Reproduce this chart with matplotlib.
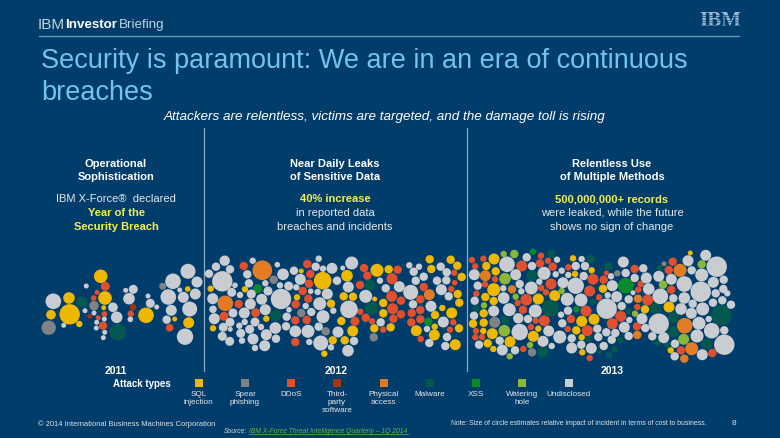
import matplotlib
matplotlib.use("Agg")
import matplotlib.pyplot as plt

plt.rcParams['font.family'] = ['Liberation Sans', 'DejaVu Sans']

# Incident bubbles: (timeline position, vertical lane, radius = impact)
sql_injection = [(69,299,5.3),(51,315.7,4.3),(69.7,315.3,9.7),(79.3,325,2.7),(100.7,277.3,6.3),(105,299,6.3),(103.7,308.7,2),
 (146,316.3,7.3),(187.7,290,2.3),(174.7,320,2),(188.7,323.7,5),(210.7,289.7,2.7),(245,290.3,2.7),(266.3,319.7,2.7),(213,329.3,2.7),
 (301.3,272,2),(322.7,281.7,8.3),(347,276.7,5.3),(297,298.3,2.7),(343.7,297.3,3.7),(353,297.7,3.7),(331,304.7,3.7),(341.3,322,3.7),
 (352.7,332,5),(332.7,341.3,3.7),(344.7,341.3,3.7),(324.3,354.7,2.7),(377,271.3,6),(388.7,270.3,3.7),(374.7,300,2),(383.3,304,3.7),
 (383.3,314.3,3.7),(390.7,328.3,3.7),(374.3,329.3,3.7),(429.7,260.3,3.7),(431.3,270,3.7),(450.7,260.7,3.7),(457.3,266.7,3.7),
 (461.7,278,3.7),(457.7,295,3.7),(459.3,303.7,3.7),(442.3,309,2.7),(451.7,314,5),(435,316,3.7),(434.7,327.7,2.7),(416.3,331.7,5),
 (459,329.3,3.7),(434.3,336,5),(455.3,345.7,5),(494,260,5),(486.3,267,3.7),(495.7,272.3,3.7),(493.7,290.7,6),(485.3,298,3.7),
 (493.7,302,3.7),(483.7,314.3,3.7),(473,324.7,3.7),(483.7,323.7,3.7),(483.3,332,2.7),(492.3,334.7,5),(510,342.7,5),(487.7,344.3,3.7),
 (493.3,350,2.7),(554.7,296.7,5),(538.3,300,5),(538.3,329.7,2.7),(533.3,337.3,5),(573,259.3,2.7),(591.7,271.3,2.7),(575,275,2.7),
 (603,289.7,3.7),(645,310.3,3.7),(581.7,322.3,5),(594,320.3,5),(576.3,331.3,3.7),(581.7,338.3,2.7),(582.3,353.3,2.7),(690.3,254,2),
 (669,308,5),(670.7,351.3,2.7)]
spear_phishing = [(48.7,328.7,6.7),(94,306.7,4.3),(162.7,287.3,3),(273.7,280.7,3.7),(301.3,314,3.7),(325.7,332.3,3.7),(373.7,338.3,3.7),
 (494.7,323.3,5),(532,353.3,3.7),(617.3,274.3,2.7),(664,264.7,2)]
ddos = [(105.3,287.3,4),(97,293.3,2),(93.7,299,2.3),(104.3,315,2.3),(98.3,318.7,2),(103,326.7,3.7),(130.7,314.7,2.7),(169.7,328.7,3.3),
 (243.7,267,3.7),(238.7,305,3.7),(255.7,313.7,4),(224,317.3,4),(307.3,265,3.7),(310.3,275,3.7),(309,284.7,3.7),(302.7,292,3.7),
 (308.3,299.7,3.7),(295.7,305.3,3.7),(295.3,321.3,3.7),(306.7,321,3.7),(355,322.3,4),(295.3,343,3.7),(364,269,3.7),(367.3,276.7,3.7),
 (397.7,270.7,3.7),(392,279.7,5),(360,286,3.7),(391.7,297.3,5),(401,301.7,3.7),(392.7,309.7,5),(360.3,312.7,2.7),(401,315.3,3.7),
 (365.7,318.7,3.7),(393.3,319.7,3.7),(372,322.3,2.7),(383.3,330.7,2.7),(454.3,273.7,2.7),(454.7,283.7,2.3),(423.7,288,3.7),
 (451.3,290,2.7),(420.3,300.3,3.7),(420.3,311,3.7),(411.7,314,3.7),(411.3,323.3,3.7),(420.3,320.3,3.7),(453.3,323.3,2.7),
 (450,330.7,2.7),(420.7,340,2.7),(472,261,2.7),(483.3,259.7,2.7),(475.3,267.3,2.7),(495,280.3,2.7),(485,285.3,2.7),(476.3,294.7,2.7),
 (476,332,2.7),(475.3,338.3,2.7),(482,338,2.7),(541,256.7,2.7),(521.7,267,5),(540,264.3,3.7),(548,261.7,2.7),(552.7,267.7,3.7),
 (551,285,5),(541.3,289,2.7),(546,293.3,2.7),(517.7,304,2.7),(526.3,300.7,5.3),(523,310.7,3.7),(535.7,321.7,2.7),(544.3,321.7,5),
 (531,328,2.7),(523.3,350,2.7),(568.3,268.3,2.7),(593,280.3,5),(606.3,274,2),(603.7,280.7,3.7),(634.7,270,3.7),(640.7,285,2.7),
 (638.3,290.7,2.7),(589.7,292,5),(599,298.3,2.7),(647.7,301,5),(637.3,308,2.7),(586,312,5),(620.7,317.3,5),(571,320,3.7),
 (612.3,324.7,5),(637,327.3,3.7),(567.7,330,2.7),(587.3,331.7,5),(589.7,359,2.7),(672.7,262.7,3.7),(668.7,271,3.7),(671.3,290.7,3.7),
 (681,351.3,3.7),(712.3,354,3.7)]
third_party = [(89.7,317.3,2),(133,308.3,2.7)]
physical_access = [(262.3,271.3,9.3),(225.3,304.3,7.3),(429.3,295.7,5),(485.3,276.7,5),(512,290.3,3.7),(638,299.7,3.7),(637.3,336,3.7),
 (680,271.3,6),(684.7,326.7,7.3),(691.7,349.7,6),(684.3,359.7,3.7)]
malware = [(81.7,303.3,5),(117.7,333,7.7),(275.7,316.7,5),(370,286,5),(371.3,309.3,6),(476,309.3,2.7),(505,321.3,3.7),(551.7,254.7,3.7),
 (531.7,276.7,5),(550.3,309.3,8),(542.7,353,5),(590.7,260,3.7),(608.3,267.3,3.7),(592.7,302.7,2.7),(628.3,312,2.7),(588,340.3,2.7),
 (620,341,2.7),(614.7,350.3,2.7),(599.7,353,2),(609.3,356.3,2.7),(659.7,269,2.7),(655.3,309.3,5),(721.3,316.3,9.7),(673.7,318.7,5),
 (673.3,332.7,5),(657.3,344,2.7),(667.3,346,2.7),(706.7,344.7,5)]
xss = [(257.7,289.7,4),(428.3,322.7,3.7),(533,252.7,2.7),(625.7,286.7,7.3),(576.3,310.3,2.7)]
watering_hole = [(503.7,255,2.7),(514.3,255,3.7),(505,279.7,5.3),(515.7,297.7,2.7),(484,306.3,2.7),(504.3,331.7,5.3),(509.7,357.3,2.7),
 (561.7,292,2.7),(530,346,2.7),(635,314.7,2.7),(701.7,265.3,3.7),(663,285.7,3.7),(683.7,340.3,5)]
undisclosed = [(53.3,302.3,7.3),(63.7,326.3,2),(86.3,287,2),(85,311.7,2),(94,314,2),(104.3,320,2),(96.7,323.3,2),(96.3,329,2),(104.7,333.3,2),
 (103.3,338.7,2),(113,308.3,4.3),(116.7,318.3,5.3),(125.7,291.3,2),(133.3,290.3,4),(129,299.7,5.3),(130.3,320.3,2.3),(148,297,2),
 (150.3,304.3,4),(156.7,308,2),(173,282.3,7.3),(188,272.3,7),(197,283,5),(179.7,291,2),(195.3,295,5),(183.3,298.3,5),(168.3,298,7.3),
 (171.3,311.3,5),(189.7,310,7),(166.7,320.7,3.7),(185,337.7,7.7),(224.7,261.7,4.7),(216,267.7,3.7),(209,274.7,3.7),(252.7,261.7,2.7),
 (230,270.3,3.7),(247.3,275.3,3.7),(277.3,265.7,2.3),(222.3,282.3,9.7),(235,286.3,2.3),(249,284.3,3.7),(265.3,284.3,2.7),(268,292,4),
 (231.7,293.3,4),(240,296,2.7),(251.3,295,4),(212.7,299.7,5),(261.7,300.3,5),(250.3,305,5),(213,310.3,3.3),(233,314,4),(244.3,314,5),
 (265.3,310.7,5),(214.3,319.7,5),(230,323.3,4),(244.7,323,2.7),(255,323,4),(223.3,328.3,4),(230.3,330.3,2),(239.3,326.7,2.7),
 (249.7,330.3,4),(261,328,2.7),(240.7,334.3,4),(222.3,337.3,4),(229.7,342.3,4),(242,341.7,2.7),(253,340,5),(266.3,335.7,5),(276,339.7,3.7),
 (255,349,2.7),(264.7,346.7,5),(281,300,9.7),(275.3,329,5.3),(283,275.3,5.3),(294,271.7,3.7),(315.7,267.7,3.7),(318.7,259.7,2.7),
 (323,269.7,2.7),(332,269.3,5),(342.7,269,2),(351.7,264,6),(300.3,280.3,5),(337,281.7,3.7),(280,286.3,2.7),(288.7,287,4),(296.3,288.3,2.7),
 (310.7,292.3,2.3),(317.7,293,2.7),(327.3,295,5),(348.3,288,5),(319.7,304.7,6),(305.7,307,2.7),(289,310.7,2.3),(311.3,313,3.7),
 (333.3,311.7,2.7),(349,310.3,8.3),(286.7,317.7,3.7),(323,317.7,6),(286,327.3,3.7),(295.3,332.3,5.3),(308,332.3,6),(318.7,327.7,3.7),
 (338,333,5),(309.3,343,2.7),(320.7,344,7),(354,342,3.7),(331,348.3,2.7),(348,351.7,5.3),(380,281.7,2.7),(385.7,289.3,3.7),(399.3,287.7,5),
 (365.7,297.3,6),(380.7,323.3,3.7),(409.3,266.3,2.7),(419,267.7,2.7),(413.7,272.7,3.7),(440.7,267.7,3.7),(446.7,273.3,3.7),(423.7,277.7,3.7),
 (415.7,281.7,3.7),(437,281.7,3.7),(446.3,281.3,3.7),(441.3,290.7,5),(410.7,293.3,7),(448.7,297.3,3.7),(413,305.3,3.7),(431,307.3,5),
 (443.3,323,5),(427,330,2.7),(447,338,3.7),(429.3,344,3.7),(445.3,347,3.7),(507,265.3,7.3),(474.3,275.7,5),(477.7,286.7,3.7),(503.3,289.3,2.7),
 (503.7,299,5.3),(474.7,301.7,3.7),(493.7,312,5),(509.3,310.7,6),(474,316.7,3.7),(499.7,341.7,3.7),(479,345.7,3.7),(502.3,351,5),(515,351.3,3.7),
 (526.7,258.3,3.7),(532,267,3.7),(557,260.7,2.7),(515.7,275.7,5),(544,274.3,6),(555.7,275.3,2.7),(519.7,285,3.7),(539.3,282.7,2.7),(563,283.7,5),
 (531.3,289,6),(521.3,292.3,2.7),(535.3,312,6),(518.3,319.3,4.7),(528,320,3.7),(548.7,332,5),(519.7,333,7.7),(559.7,338,6),(543,342.3,5),
 (551.7,347,2.7),(581.7,260,2.7),(575.7,267,3.7),(585,267,3.7),(561.7,271.7,2.7),(568.3,276,2.7),(583.7,277,3.7),(575.7,286.7,7.7),(611,277.3,2.7),
 (623.3,263,5),(625.7,274,3.7),(643.3,269.3,3.7),(634.7,279,3.7),(646.3,279,5),(612.3,286.7,5),(607.7,296.3,2.7),(633,293.7,2),(648.7,290,5.3),
 (616.7,297.7,5),(567.3,300.3,6),(581,301,6),(628.7,300.3,3.7),(621.7,307,3.7),(606.7,309.7,9.7),(568,311.7,3.7),(561,315.7,2.7),(642,319.7,5),
 (629.3,321,2.7),(562.3,324.3,3.7),(624.3,328.3,5),(645.3,329,3.7),(597.3,329.7,3.7),(606.3,333.3,3.7),(615.3,334,3.7),(598.3,338,3.7),
 (571.7,339.3,3.7),(611.7,340.7,3.7),(628.7,337,3.7),(581.3,345.7,3.7),(603.7,347,3.7),(571.7,349,5),(591.3,349.3,5),(705.7,256.3,5),(688,261.7,5),
 (716.7,267.7,9.7),(691.7,271.3,3.7),(658.7,277.3,5),(671.3,280.3,5),(701.7,276,6),(684.3,285,7.3),(713.3,283.3,5),(723.7,280.7,3.7),(723.3,290,3.7),
 (700.7,292.7,9.7),(660.3,297.3,7.3),(715.7,294.3,3.7),(727.3,294.3,2.7),(673.3,299.3,3.7),(684.3,299,5.3),(722.3,301.3,3.7),(713,303.7,3.7),
 (731,305.7,3.7),(681,310,5.3),(692.7,304.7,3.7),(702.7,310,6),(691.3,314.3,5),(708.7,320,2.7),(658.7,324.7,9.7),(699,324.3,6),(711.7,331.7,7.3),
 (724.3,331.3,3.7),(652.3,337.3,3.7),(663.7,338.7,5),(697,337,6),(675,344.7,3.7),(724.3,345.7,9.7),(674.7,357.3,3.7),(702.3,355.7,5)]

attack_names = ["SQL\ninjection", "Spear\nphishing", "DDoS", "Third-\nparty\nsoftware", "Physical\naccess",
                "Malware", "XSS", "Watering\nhole", "Undisclosed"]
attack_colors = ["#efb800", "#7f8386", "#e0502f", "#a33510", "#e27b24", "#03594f", "#0b8a2c", "#8ab63a", "#c9cdd1"]
attack_series = [sql_injection, spear_phishing, ddos, third_party, physical_access, malware, xss, watering_hole, undisclosed]
year_labels = ["2011", "2012", "2013"]

BG = "#013d6b"
WHITE = "#ffffff"
SOFT = "#e2e8ed"
YEL = "#f4ee4e"
fig = plt.figure(figsize=(7.8, 4.39), dpi=100, facecolor=BG)
ax = fig.add_axes([0, 0, 1, 1])
ax.set_xlim(0, 780); ax.set_ylim(439, 0); ax.axis("off")

for series, colr in zip(attack_series, attack_colors):
    xs = [p[0] for p in series]; ys = [p[1] for p in series]
    ss = [(2 * (p[2] + 0.5) * 0.72) ** 2 for p in series]
    ax.scatter(xs, ys, s=ss, c=colr, linewidths=0, zorder=3)

# header
ax.plot([39, 739], [37, 37], color="#6f9dbd", lw=0.9)
hc = "#bfd2e0"
ax.text(38, 25, "IBM", color=hc, fontsize=11, va="center")
ax.text(65.3, 25, "Investor", color=WHITE, fontsize=9.6, va="center", fontweight="bold")
ax.text(118.5, 25, "Briefing", color=hc, fontsize=9.6, va="center")
ax.text(720.5, 21.5, "IBM", color="#9dbad2", fontsize=15, va="center", ha="center", family="Liberation Serif", fontweight="bold")
for yy in (15.8, 18.3, 20.8, 23.3, 25.8, 28.3):
    ax.plot([698, 744], [yy, yy], color=BG, lw=0.4, zorder=5)

ax.text(41, 61, "Security is paramount: We are in an era of continuous", color="#74c3ee", fontsize=19.5, va="center")
ax.text(41, 93, "breaches", color="#74c3ee", fontsize=19.5, va="center")
ax.text(384.5, 117.5, "Attackers are relentless, victims are targeted, and the damage toll is rising",
        color=WHITE, fontsize=9.7, style="italic", ha="center", va="center")

# era dividers
for x in (203.5, 466.5):
    ax.plot([x, x], [129, 372], color="#8aa9c2", lw=0.9, zorder=2)

def col(cx, rows):
    for y, s, c, w in rows:
        ax.text(cx, y, s, color=c, fontsize=8, fontweight=w, ha="center", va="center")

col(116, [(164, "Operational", WHITE, "bold"), (177.5, "Sophistication", WHITE, "bold"),
          (199.5, "IBM X-Force®  declared", SOFT, "normal"),
          (213, "Year of the", YEL, "bold"), (227, "Security Breach", YEL, "bold")])
col(335, [(164, "Near Daily Leaks", WHITE, "bold"), (177.5, "of Sensitive Data", WHITE, "bold"),
          (199.5, "40% increase", YEL, "bold"), (213, "in reported data", SOFT, "normal"),
          (227, "breaches and incidents", SOFT, "normal")])
col(612, [(164, "Relentless Use", WHITE, "bold"), (177.5, "of Multiple Methods", WHITE, "bold"),
          (199.5, "500,000,000+ records", YEL, "bold"), (213, "were leaked, while the future", SOFT, "normal"),
          (227, "shows no sign of change", SOFT, "normal")])

for x, s in zip((116, 336, 612), year_labels):
    ax.text(x, 371, s, color=WHITE, fontsize=7.5, fontweight="bold", ha="center", va="center")

# legend
ax.text(142, 384, "Attack types", color=WHITE, fontsize=7, fontweight="bold", ha="center", va="center")
leg_x = [198.5, 245, 291, 337, 383.5, 429.5, 476, 522, 568.5]
for x, name, c in zip(leg_x, attack_names, attack_colors):
    ax.scatter([x], [383.5], marker="s", s=(8.5 * 0.72) ** 2, c=c, linewidths=0, zorder=3)
    ax.text(x, 391, name, color=SOFT, fontsize=5.9, ha="center", va="top", linespacing=1.2)

# footer
ft = "#dde3e9"
ax.text(38, 424, "© 2014 International Business Machines Corporation", color=ft, fontsize=5.4, va="center")
ax.text(451, 423.5, "Note: Size of circle estimates relative impact of incident in terms of cost to business.", color=ft, fontsize=4.95, va="center")
ax.text(734, 424, "8", color=ft, fontsize=6, va="center", ha="center")
ax.text(224, 432, "Source:", color="#cfd8df", fontsize=4.9, style="italic", va="center")
ax.text(249, 432, "IBM X-Force Threat Intelligence Quarterly – 1Q 2014", color="#69b24a", fontsize=4.9, style="italic", va="center")
ax.plot([249, 408], [435.3, 435.3], color="#69b24a", lw=0.5)

fig.savefig("out.png", dpi=100, facecolor=BG)
